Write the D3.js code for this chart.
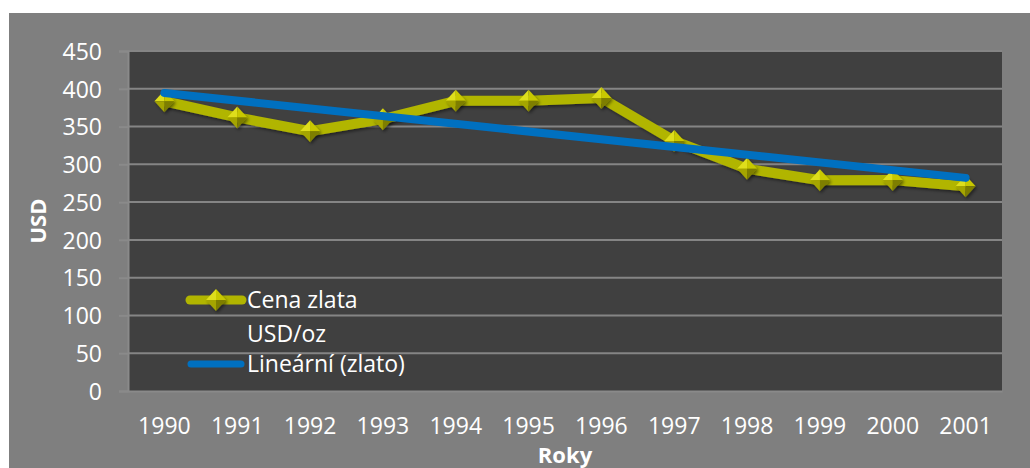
<!DOCTYPE html>
<html>
<head>
<meta charset="utf-8">
<script src="https://cdn.jsdelivr.net/npm/d3@7"></script>
<style>
  body { margin: 0; background: #ffffff; }
  text { font-family: "Open Sans", "Noto Sans", sans-serif; fill: #ffffff; }
</style>
</head>
<body>
<script>
// Data
let years = ["1990", "1991", "1992", "1993", "1994", "1995", "1996", "1997", "1998", "1999", "2000", "2001"];
let goldPrice = [383.5, 362.1, 343.8, 359.8, 384.0, 384.2, 387.8, 331.0, 294.2, 278.9, 279.1, 271.0];
// linear trend line end points (as drawn)
let trendYears = ["1990", "2001"];
let trendValues = [394.5, 282.1];
let yTicks = [0, 50, 100, 150, 200, 250, 300, 350, 400, 450];
let legendLabels = ["Cena zlata", "USD/oz", "Lineární (zlato)"];

// Set the dimensions
let W = 1030, H = 468;
let margin = {top: 51, right: 28, bottom: 77, left: 128};
let width = W - margin.left - margin.right;
let height = H - margin.top - margin.bottom;

let x = d3.scaleBand().domain(years).range([0, width]);
let y = d3.scaleLinear().domain([0, 450]).range([height, 0]);
let cx = d => x(d) + x.bandwidth() / 2;

let svg = d3.select("body").append("svg")
    .attr("width", W)
    .attr("height", H);

// chart area background
svg.append("rect")
    .attr("x", 9).attr("y", 13)
    .attr("width", W - 9).attr("height", H - 13)
    .attr("fill", "#7f7f7f");

let defs = svg.append("defs");
let sh = defs.append("filter").attr("id", "shadow")
    .attr("x", "-20%").attr("y", "-20%").attr("width", "140%").attr("height", "140%");
sh.append("feDropShadow").attr("dx", 1.5).attr("dy", 2).attr("stdDeviation", 1.5)
    .attr("flood-color", "#000").attr("flood-opacity", 0.45);

let g = svg.append("g")
    .attr("transform", "translate(" + margin.left + "," + margin.top + ")");

// plot area
g.append("rect")
    .attr("width", width).attr("height", height)
    .attr("fill", "#404040");

// gridlines
g.selectAll(".grid").data(yTicks.slice(1)).enter().append("line")
    .attr("x1", 0).attr("x2", width)
    .attr("y1", d => y(d)).attr("y2", d => y(d))
    .attr("stroke", "#858585").attr("stroke-width", 2);

// y axis
let yAxis = d3.axisLeft(y).tickValues(yTicks).tickSize(9).tickPadding(17);
let ya = g.append("g").call(yAxis);
ya.select(".domain").attr("stroke", "#8a8a8a").attr("stroke-width", 2);
ya.selectAll(".tick line").attr("stroke", "#8a8a8a").attr("stroke-width", 2);
ya.selectAll(".tick text").style("font-size", "23px").attr("fill", "#fff").attr("dy", "0.36em");

// x axis
let xAxis = d3.axisBottom(x).tickSize(0).tickPadding(27);
let xa = g.append("g").attr("transform", "translate(0," + height + ")").call(xAxis);
xa.select(".domain").attr("stroke", "#8a8a8a").attr("stroke-width", 2);
xa.selectAll(".tick text").style("font-size", "23px").attr("fill", "#fff");

// axis titles
svg.append("text")
    .attr("transform", "translate(46," + (margin.top + height / 2) + ") rotate(-90)")
    .style("text-anchor", "middle")
    .style("font-size", "22px").style("font-weight", "bold")
    .text("USD");

svg.append("text")
    .attr("x", margin.left + width / 2).attr("y", 463)
    .style("text-anchor", "middle")
    .style("font-size", "22px").style("font-weight", "bold")
    .text("Roky");

// gold line
let line = d3.line().x((d, i) => cx(years[i])).y(d => y(d));
g.append("path")
    .attr("d", line(goldPrice))
    .attr("fill", "none")
    .attr("stroke", "#b1b500")
    .attr("stroke-width", 10)
    .attr("stroke-linejoin", "round")
    .attr("filter", "url(#shadow)");

// diamond markers with facets
function diamond(sel, px, py) {
    let w = 10, h = 11;
    let gg = sel.append("g").attr("transform", "translate(" + px + "," + py + ")")
        .attr("filter", "url(#shadow)");
    let facets = [
        {p: [[0, -h], [-w, 0], [0, 0]], c: "#dede1a"},
        {p: [[0, -h], [w, 0], [0, 0]], c: "#c8c800"},
        {p: [[0, h], [-w, 0], [0, 0]], c: "#a5a500"},
        {p: [[0, h], [w, 0], [0, 0]], c: "#7e7e00"}
    ];
    facets.forEach(f => {
        gg.append("path")
            .attr("d", "M" + f.p.map(q => q.join(",")).join("L") + "Z")
            .attr("fill", f.c);
    });
}
goldPrice.forEach((v, i) => diamond(g, cx(years[i]), y(v)));

// trend line
g.append("line")
    .attr("x1", cx(trendYears[0])).attr("y1", y(trendValues[0]))
    .attr("x2", cx(trendYears[1])).attr("y2", y(trendValues[1]))
    .attr("stroke", "#0070c0")
    .attr("stroke-width", 8)
    .attr("stroke-linecap", "round");

// legend
let lg = svg.append("g");
lg.append("line")
    .attr("x1", 190).attr("x2", 242).attr("y1", 300).attr("y2", 300)
    .attr("stroke", "#b1b500").attr("stroke-width", 9).attr("stroke-linecap", "round");
diamond(lg, 216, 300);
lg.append("line")
    .attr("x1", 191).attr("x2", 241).attr("y1", 364).attr("y2", 364)
    .attr("stroke", "#0070c0").attr("stroke-width", 7).attr("stroke-linecap", "round");
lg.selectAll(".lt").data(legendLabels).enter().append("text")
    .attr("x", 247)
    .attr("y", (d, i) => [308, 342, 372][i])
    .style("font-size", "23px")
    .text(d => d);
</script>
</body>
</html>
